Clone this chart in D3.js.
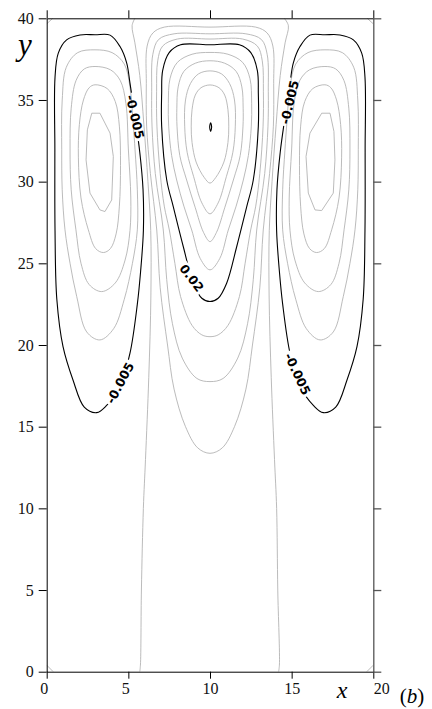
<!doctype html>
<html>
<head>
<meta charset="utf-8">
<script src="https://d3js.org/d3.v7.min.js"></script>
<style>
  body { margin: 0; background: #fff; }
  svg { display: block; }
  .clabel { font-family: "DejaVu Sans", sans-serif; font-size: 12.5px; font-weight: bold; fill: #000; }
  .gray { fill: none; stroke: #b3b3b3; stroke-width: 0.9; }
  .black { fill: none; stroke: #000; stroke-width: 1.1; }
</style>
</head>
<body>
<svg width="432" height="709"></svg>
<script>
// axis ticks
var xTicks = [0, 5, 10, 15, 20];
var yTicks = [0, 5, 10, 15, 20, 25, 30, 35, 40];

// contour lines, [x, y] in data units
// left cell
var leftBlack = [[2.96,38.99],[3.88,38.97],[4.49,38.27],[4.9,37.26],[5.1,36.03],[5.4,34.0],[5.7,31.8],[5.9,29.5],[5.92,27.0],[5.75,24.5],[5.55,22.5],[5.1,19.5],[4.5,17.5],[3.67,16.3],[3.06,15.86],[2.3,16.2],[1.61,17.86],[1.0,19.9],[0.62,22.8],[0.51,27.0],[0.5,32.0],[0.51,36.4],[0.71,37.87],[1.22,38.68],[2.04,38.98]];
var leftG1 = [[2.96,38.07],[4.0,37.9],[4.75,37.2],[5.1,35.8],[5.3,33.5],[5.41,31.95],[5.55,29.5],[5.55,27.05],[5.25,25.0],[4.75,22.8],[4.1,21.0],[3.26,20.31],[2.45,20.8],[1.84,22.96],[1.43,25.0],[1.12,27.05],[0.95,29.5],[0.92,31.95],[0.95,35.0],[1.2,37.0],[1.9,37.9]];
var leftG2 = [[2.96,37.05],[3.9,36.85],[4.5,36.2],[4.85,34.8],[5.0,32.0],[5.15,29.0],[5.1,27.0],[4.8,25.2],[4.2,23.8],[3.37,23.27],[2.6,23.7],[2.1,25.0],[1.79,27.05],[1.5,29.5],[1.43,32.0],[1.5,34.5],[1.8,36.2],[2.3,36.9]];
var leftG3 = [[2.96,35.93],[3.7,35.7],[4.2,34.9],[4.45,33.4],[4.52,31.0],[4.45,28.5],[4.25,26.8],[3.9,25.9],[3.47,25.66],[3.0,25.9],[2.55,27.05],[2.1,29.0],[1.94,31.5],[2.0,33.5],[2.25,35.0],[2.6,35.75]];
var leftG4 = [[2.76,34.19],[3.26,34.19],[3.88,32.97],[4.08,31.54],[3.98,28.88],[3.57,28.17],[3.26,28.27],[2.65,29.3],[2.41,31.33],[2.49,33.17]];

// right cell
var rightBlack = [[17.04,38.99],[16.12,38.97],[15.51,38.27],[15.1,37.26],[14.9,36.03],[14.6,34.0],[14.3,31.8],[14.1,29.5],[14.08,27.0],[14.25,24.5],[14.45,22.5],[14.9,19.5],[15.5,17.5],[16.33,16.3],[16.94,15.86],[17.7,16.2],[18.39,17.86],[19.0,19.9],[19.38,22.8],[19.49,27.0],[19.5,32.0],[19.49,36.4],[19.29,37.87],[18.78,38.68],[17.96,38.98]];
var rightG1 = [[17.04,38.07],[16.0,37.9],[15.25,37.2],[14.9,35.8],[14.7,33.5],[14.59,31.95],[14.45,29.5],[14.45,27.05],[14.75,25.0],[15.25,22.8],[15.9,21.0],[16.74,20.31],[17.55,20.8],[18.16,22.96],[18.57,25.0],[18.88,27.05],[19.05,29.5],[19.08,31.95],[19.05,35.0],[18.8,37.0],[18.1,37.9]];
var rightG2 = [[17.04,37.05],[16.1,36.85],[15.5,36.2],[15.15,34.8],[15.0,32.0],[14.85,29.0],[14.9,27.0],[15.2,25.2],[15.8,23.8],[16.63,23.27],[17.4,23.7],[17.9,25.0],[18.21,27.05],[18.5,29.5],[18.57,32.0],[18.5,34.5],[18.2,36.2],[17.7,36.9]];
var rightG3 = [[17.04,35.93],[16.3,35.7],[15.8,34.9],[15.55,33.4],[15.48,31.0],[15.55,28.5],[15.75,26.8],[16.1,25.9],[16.53,25.66],[17.0,25.9],[17.45,27.05],[17.9,29.0],[18.06,31.5],[18.0,33.5],[17.75,35.0],[17.4,35.75]];
var rightG4 = [[16.84,34.19],[17.35,34.19],[17.59,33.07],[17.65,31.33],[17.55,29.3],[16.84,28.23],[16.43,28.27],[16.02,29.3],[15.88,31.54],[16.12,32.97]];

// center cell
var centerDot = [[10.04,33.6],[10.1,33.34],[10.04,33.08],[9.98,33.34]];
var centerC1 = [[10,35.92],[10.55,35.75],[10.9,35.3],[11.1,34.4],[11.15,33.4],[11.1,32.4],[10.85,31.2],[10.35,30.25],[10,29.91],[9.65,30.25],[9.15,31.2],[8.9,32.4],[8.85,33.4],[8.9,34.4],[9.1,35.3],[9.45,35.75]];
var centerC2 = [[10,36.78],[10.7,36.6],[11.2,36.0],[11.5,35.0],[11.55,33.4],[11.4,31.8],[11.0,30.3],[10.5,28.7],[10,28.03],[9.5,28.7],[9.0,30.3],[8.6,31.8],[8.45,33.4],[8.5,35.0],[8.8,36.0],[9.3,36.6]];
var centerC3 = [[10,37.4],[10.9,37.25],[11.6,36.75],[11.95,35.8],[12.03,34.5],[12.02,33.4],[11.85,31.6],[11.43,30.1],[10.9,28.4],[10.4,26.9],[10,26.33],[9.6,26.9],[9.1,28.4],[8.57,30.1],[8.15,31.6],[7.98,33.4],[7.97,34.5],[8.05,35.8],[8.4,36.75],[9.1,37.25]];
var centerC4 = [[10,37.91],[11.1,37.8],[12.0,37.3],[12.45,36.3],[12.55,34.8],[12.53,33.4],[12.35,31.6],[12.04,30.1],[11.6,28.5],[11.12,27.04],[10.6,25.3],[10,24.6],[9.4,25.3],[8.88,27.04],[8.4,28.5],[7.96,30.1],[7.65,31.6],[7.47,33.4],[7.45,34.8],[7.55,36.3],[8.0,37.3],[8.9,37.8]];
var centerBlack = [[10,38.38],[11.8,38.38],[12.5,37.9],[12.9,36.8],[12.96,35.4],[12.96,33.4],[12.65,30.1],[12.25,28.47],[11.63,26.0],[11.02,23.78],[10.5,22.86],[10,22.66],[9.5,22.86],[8.98,23.78],[8.37,26.0],[7.75,28.47],[7.35,30.1],[7.04,33.4],[7.04,35.4],[7.1,36.8],[7.5,37.9],[8.2,38.38]];
var centerC6 = [[10,38.73],[12.0,38.73],[12.9,38.3],[13.2,37.4],[13.27,35.5],[13.25,33.4],[13.05,30.5],[12.8,28.5],[12.49,27.04],[12.15,25.0],[11.8,22.96],[11.1,21.2],[10.5,20.62],[10,20.51],[9.5,20.62],[8.9,21.2],[8.2,22.96],[7.85,25.0],[7.51,27.04],[7.2,28.5],[6.95,30.5],[6.75,33.4],[6.73,35.5],[6.8,37.4],[7.1,38.3],[8.0,38.73]];
var centerC7 = [[10,39.05],[12.2,39.05],[13.15,38.7],[13.5,37.8],[13.57,35.5],[13.55,33.4],[13.35,30.5],[12.86,27.04],[12.65,24.0],[12.3,21.3],[11.7,19.2],[10.8,17.95],[10,17.76],[9.2,17.95],[8.3,19.2],[7.7,21.3],[7.35,24.0],[7.14,27.04],[6.65,30.5],[6.45,33.4],[6.43,35.5],[6.5,37.8],[6.85,38.7],[7.8,39.05]];
var centerC8 = [[10,39.46],[12.8,39.46],[13.5,39.1],[13.85,38.3],[13.9,36.0],[13.88,33.4],[13.65,30.5],[13.26,27.04],[13.05,23.5],[12.6,20.0],[12.2,17.3],[11.5,15.0],[10.75,13.7],[10,13.37],[9.25,13.7],[8.5,15.0],[7.8,17.3],[7.4,20.0],[6.95,23.5],[6.74,27.04],[6.35,30.5],[6.12,33.4],[6.1,36.0],[6.15,38.3],[6.5,39.1],[7.2,39.46]];

// open lines from wall to wall
var zeroLeft = [[5.4,40],[5.23,39.55],[5.4,38.5],[5.7,36.5],[5.95,33.5],[6.2,30.0],[6.37,27.0],[6.38,23.0],[6.25,18.0],[6.05,13.0],[5.92,10.0],[5.8,5.0],[5.74,0.4],[5.7,0]];
var zeroRight = [[14.55,40],[14.8,39.55],[14.6,38.5],[14.3,36.5],[14.05,33.5],[13.8,30.0],[13.63,27.0],[13.62,23.0],[13.75,18.0],[13.95,13.0],[14.08,10.0],[14.15,5.0],[14.25,0.4],[14.2,0]];
var corners = [
  [[0,39.66],[0.37,40]],
  [[19.63,40],[20,39.66]],
  [[0,0.4],[0.4,0]],
  [[19.6,0],[20,0.4]]
];

// contour labels: text, position, angle
var labelText  = ["-0.005", "-0.005", "0.02", "-0.005", "-0.005"];
var labelX     = [5.41, 4.49, 8.88, 14.87, 15.36];
var labelY     = [33.97, 17.68, 24.1, 34.86, 18.23];
var labelAngle = [77, -62, 53, -77, 65];

var svg = d3.select("svg");

var x = d3.scaleLinear().domain([0, 20]).range([46.7, 373.3]);
var y = d3.scaleLinear().domain([0, 40]).range([671.7, 18.3]);

var smooth = d3.line().x(function(d) { return x(d[0]); }).y(function(d) { return y(d[1]); })
    .curve(d3.curveCatmullRomClosed.alpha(0.5));
var poly = d3.line().x(function(d) { return x(d[0]); }).y(function(d) { return y(d[1]); })
    .curve(d3.curveLinearClosed);
var open = d3.line().x(function(d) { return x(d[0]); }).y(function(d) { return y(d[1]); })
    .curve(d3.curveCatmullRom.alpha(0.5));

var defs = svg.append("defs");
defs.append("clipPath").attr("id", "plot")
    .append("rect")
    .attr("x", x(0)).attr("y", y(40))
    .attr("width", x(20) - x(0)).attr("height", y(0) - y(40));

var mask = defs.append("mask").attr("id", "labelgap")
    .attr("maskUnits", "userSpaceOnUse")
    .attr("x", 0).attr("y", 0).attr("width", 432).attr("height", 709);
mask.append("rect").attr("x", 0).attr("y", 0).attr("width", 432).attr("height", 709).attr("fill", "#fff");

var g = svg.append("g").attr("clip-path", "url(#plot)");

// gray contours
[leftG1, leftG2, leftG3, rightG1, rightG2, rightG3,
 centerC1, centerC2, centerC3, centerC4, centerC6, centerC7, centerC8].forEach(function(c) {
    g.append("path").attr("class", "gray").attr("d", smooth(c));
});
[leftG4, rightG4].forEach(function(c) {
    g.append("path").attr("class", "gray").attr("d", poly(c));
});
[zeroLeft, zeroRight].forEach(function(c) {
    g.append("path").attr("class", "gray").attr("d", open(c));
});
corners.forEach(function(c) {
    g.append("path").attr("class", "gray").attr("d", open(c));
});

// black contours, broken where the labels sit
var gb = g.append("g").attr("mask", "url(#labelgap)");
[leftBlack, rightBlack, centerBlack].forEach(function(c) {
    gb.append("path").attr("class", "black").attr("d", smooth(c));
});
g.append("path").attr("class", "black").attr("stroke-width", 0.9).attr("d", smooth(centerDot));

labelText.forEach(function(t, i) {
    var px = x(labelX[i]), py = y(labelY[i]);
    var txt = svg.append("text")
        .attr("class", "clabel")
        .attr("transform", "translate(" + px + "," + py + ") rotate(" + labelAngle[i] + ")")
        .attr("text-anchor", "middle")
        .attr("dominant-baseline", "central")
        .text(t);
    var w = txt.node().getComputedTextLength() + 4;
    mask.append("rect")
        .attr("x", -w / 2).attr("y", -6).attr("width", w).attr("height", 12)
        .attr("fill", "#000")
        .attr("transform", "translate(" + px + "," + py + ") rotate(" + labelAngle[i] + ")");
});

// axes
function serifTicks(sel) {
    sel.selectAll(".tick text")
        .style("font-family", "'Liberation Serif', serif")
        .style("font-size", "16px")
        .style("fill", "#111");
    sel.selectAll(".domain").attr("stroke-width", 1);
}

var bottom = svg.append("g")
    .attr("transform", "translate(0," + y(0) + ")")
    .call(d3.axisBottom(x).tickValues(xTicks).tickSize(7).tickSizeOuter(0).tickPadding(4))
    .call(serifTicks);
bottom.selectAll(".tick text").attr("dx", function(d) { return d == 20 ? 8 : (d < 10 ? -3 : 0); });

svg.append("g")
    .attr("transform", "translate(" + x(0) + ",0)")
    .call(d3.axisLeft(y).tickValues(yTicks).tickSize(8).tickSizeOuter(0).tickPadding(5))
    .call(serifTicks);

svg.append("g")
    .attr("transform", "translate(0," + y(40) + ")")
    .call(d3.axisTop(x).tickValues(xTicks).tickSize(8).tickSizeOuter(0).tickFormat(""));

var right = svg.append("g")
    .attr("transform", "translate(" + x(20) + ",0)")
    .call(d3.axisRight(y).tickValues(yTicks).tickSize(8).tickSizeOuter(0).tickFormat(""));
right.selectAll("path, line").attr("stroke", "#555").attr("stroke-width", 1.3);

// axis titles
svg.append("text")
    .attr("x", 25).attr("y", 55)
    .attr("text-anchor", "middle")
    .style("font-family", "'Liberation Serif', serif")
    .style("font-style", "italic")
    .style("font-size", "31px")
    .text("y");

svg.append("text")
    .attr("x", 342).attr("y", 698)
    .attr("text-anchor", "middle")
    .style("font-family", "'Liberation Serif', serif")
    .style("font-style", "italic")
    .style("font-size", "24px")
    .text("x");

var tag = svg.append("text")
    .attr("x", 412).attr("y", 703)
    .attr("text-anchor", "middle")
    .style("font-family", "'Liberation Serif', serif")
    .style("font-size", "21px");
tag.append("tspan").text("(");
tag.append("tspan").style("font-style", "italic").text("b");
tag.append("tspan").text(")");
</script>
</body>
</html>
